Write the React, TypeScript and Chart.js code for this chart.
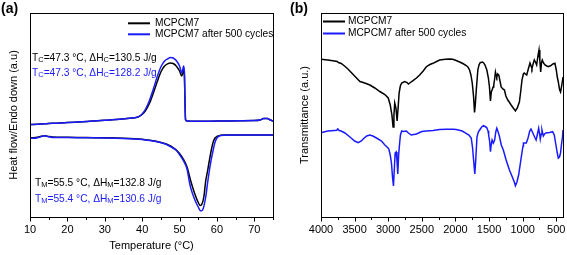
import React, { useEffect, useRef } from 'react';
import { Chart, registerables } from 'chart.js';

Chart.register(...registerables);

const FONT = "'Liberation Sans', Arial, Helvetica, sans-serif";
const BLACK = '#000000';
const BLUE = '#1a1aff';

const SERIES_NAMES = ['MCPCM7', 'MCPCM7 after 500 cycles'];

// ---------- (a) DSC ----------
const COOL_T = [10, 12, 14, 16, 18, 20, 22, 24, 26, 28, 30, 32, 34, 36, 38, 39, 40, 41, 42, 43, 44, 45, 46, 47, 47.5, 48, 48.5, 49, 50, 50.6, 50.9, 51.1, 51.3, 51.45, 51.6, 52, 54, 58, 62, 66, 70, 71.5, 72.5, 73.5, 74.3, 75];
const COOL_MCPCM7 = [92.5, 92.8, 93.2, 93.7, 94, 94.4, 94.8, 95.2, 95.7, 96.2, 96.7, 97.2, 97.8, 98.5, 99.2, 100.2, 102.5, 107, 114, 124, 135, 145, 151, 153.5, 154, 153.8, 153, 151.5, 146, 141, 144, 146.5, 142, 117, 97.5, 96, 95.8, 95.8, 96, 96.2, 96.4, 97, 98.5, 98.5, 97, 96];
const COOL_CYCLED = [92.5, 92.8, 93.2, 93.7, 94, 94.4, 94.8, 95.2, 95.7, 96.2, 96.7, 97.2, 97.8, 98.5, 99.2, 100.2, 103, 108.5, 117, 128, 140, 150, 156, 158.5, 159.5, 159.3, 158.5, 157, 151, 144, 148, 151, 145, 117, 97.5, 96, 95.8, 95.8, 96, 96.2, 96.4, 97, 98.5, 98.5, 97, 96];

const HEAT_T_MCPCM7 = [10, 11, 12, 13, 14, 15, 16, 20, 25, 30, 35, 38, 40, 42, 44, 46, 47, 48, 49, 50, 51, 52, 53, 54, 55, 55.5, 56, 56.5, 57, 57.5, 58, 58.5, 59, 59.5, 60, 61, 62, 65, 70, 75];
const HEAT_MCPCM7 = [79.5, 79.2, 79.7, 80.7, 81.2, 80.5, 80, 79.7, 79.4, 79.2, 78.8, 78.3, 77.7, 76.7, 75.5, 73.5, 72, 70.2, 67.5, 63.5, 58, 50, 36, 24, 14.5, 11.5, 13, 20, 36, 46, 57, 67, 75, 79, 80.7, 81.7, 81.9, 82, 82, 82];
const HEAT_T_CYCLED = [10, 11, 12, 13, 14, 15, 16, 20, 25, 30, 35, 38, 40, 42, 44, 46, 47, 48, 49, 50, 51, 52, 52.7, 53, 54, 55, 55.7, 56.3, 57, 57.5, 58, 58.5, 59, 59.5, 60, 61, 62, 65, 70, 75];
const HEAT_CYCLED = [79, 78.7, 79.2, 80.5, 81.2, 80.2, 79.6, 79.4, 79.2, 79, 78.6, 78.1, 77.5, 76.5, 75.2, 73.2, 71.5, 69.5, 67, 62.5, 56.5, 48, 34, 29, 18, 10, 6, 8, 20, 34, 47, 58, 67, 75, 79, 81.5, 81.8, 82, 82, 82];

const DSC_X_MIN = 10;
const DSC_X_MAX = 75;
const DSC_MAJOR = [10, 20, 30, 40, 50, 60, 70];

// ---------- (b) FTIR ----------
const WN_MCPCM7 = [4000, 3900, 3800, 3760, 3740, 3700, 3650, 3600, 3550, 3500, 3450, 3420, 3350, 3273, 3200, 3125, 3050, 3000, 2970, 2945, 2928, 2915, 2903, 2885, 2868, 2850, 2838, 2820, 2800, 2755, 2720, 2700, 2680, 2631, 2580, 2532, 2480, 2433, 2380, 2334, 2280, 2235, 2150, 2087, 2040, 1990, 1938, 1890, 1840, 1815, 1790, 1770, 1750, 1730, 1716, 1705, 1690, 1667, 1650, 1632, 1600, 1583, 1560, 1533, 1510, 1494, 1479, 1467, 1455, 1440, 1430, 1415, 1405, 1395, 1385, 1370, 1355, 1340, 1320, 1295, 1271, 1250, 1222, 1200, 1172, 1140, 1108, 1080, 1049, 1030, 1010, 990, 975, 960, 940, 920, 891, 875, 862, 845, 827, 810, 792, 775, 757, 745, 732, 720, 708, 690, 668, 640, 618, 580, 550, 520, 500, 485, 470, 450, 436, 420, 400];
const TR_MCPCM7 = [157.7, 157, 156, 155.5, 154.5, 153.5, 151, 148, 144.5, 141, 137.5, 135.5, 134, 132, 129, 125.5, 122.5, 119, 112, 102, 90, 102, 114, 109, 96, 112, 124, 131, 134, 135.5, 134.5, 133, 134, 136.3, 139, 142, 146, 150.3, 152.5, 153.7, 155.5, 157, 157.8, 158, 157.7, 156.5, 155, 153.5, 151.5, 150, 147, 142, 134, 120, 104.5, 112, 127, 147, 152, 154.3, 155, 154.3, 152, 147, 139, 130, 116, 125, 127, 130, 132, 139, 145, 142, 140, 143, 142, 137, 130, 128, 127, 121, 117, 115, 112, 109, 106, 109, 115, 125, 137, 143, 144, 143, 142, 147, 154, 151, 148.5, 153, 157, 155, 152, 160, 167, 157, 145, 154, 157, 154, 152, 151, 150.3, 151.5, 153, 153.7, 147, 140, 135, 127, 125, 131, 140];

const WN_CYCLED = [4000, 3900, 3800, 3767, 3750, 3730, 3700, 3644, 3570, 3500, 3447, 3400, 3373, 3320, 3273, 3230, 3174, 3100, 3050, 3010, 2991, 2970, 2952, 2935, 2922, 2910, 2897, 2882, 2870, 2858, 2845, 2830, 2818, 2800, 2779, 2730, 2700, 2657, 2620, 2581, 2557, 2500, 2433, 2334, 2236, 2136, 2038, 1988, 1900, 1840, 1800, 1765, 1745, 1730, 1712, 1698, 1680, 1660, 1640, 1610, 1583, 1560, 1535, 1515, 1506, 1490, 1479, 1468, 1455, 1436, 1417, 1400, 1385, 1365, 1347, 1318, 1288, 1246, 1197, 1148, 1120, 1108, 1085, 1060, 1040, 1016, 995, 988, 965, 946, 920, 895, 876, 855, 836, 815, 800, 780, 762, 750, 738, 725, 713, 693, 675, 654, 600, 555, 530, 505, 485, 470, 452, 437, 420, 407, 400];
const TR_CYCLED = [84.3, 86, 86.5, 86.7, 88, 86.5, 86, 84, 80, 76, 74.3, 76, 78, 81, 82, 81, 79, 76, 72, 69.5, 68, 62, 54, 39, 31, 47, 64, 65, 57, 43, 62, 74, 82, 86, 85.5, 86, 84, 82, 82.5, 83, 83.7, 85.5, 86, 86.5, 87.5, 87.7, 87.7, 87.5, 86, 83.7, 82, 79, 69, 57, 43, 57, 80, 85, 87, 90, 91.3, 90.5, 89.5, 86, 82, 75, 65.3, 72, 77, 74, 77, 85, 88.7, 85, 81, 72, 67, 57, 47, 39, 34, 31.3, 35, 42, 51, 62, 71, 74, 74, 74, 79, 86, 88, 85, 82, 79, 77, 83, 88.7, 84, 78, 83, 87, 81, 83, 84, 84.5, 85.3, 82, 72, 64, 59, 60, 64, 74, 80, 87];

const FTIR_X_MIN = 400;
const FTIR_X_MAX = 4000;
const FTIR_MAJOR = [500, 1000, 1500, 2000, 2500, 3000, 3500, 4000];

const Y_MIN = 0;
const Y_MAX = 204;

function zip(xs: number[], ys: number[]) {
  return xs.map((x, i) => ({ x, y: ys[i] }));
}

type Seg = { t: string; sub?: boolean };

function drawRich(ctx: CanvasRenderingContext2D, x: number, y: number, segs: Seg[], color: string) {
  ctx.save();
  ctx.fillStyle = color;
  ctx.textBaseline = 'middle';
  ctx.textAlign = 'left';
  let cx = x;
  for (const s of segs) {
    ctx.font = s.sub ? `7.5px ${FONT}` : `10.2px ${FONT}`;
    ctx.fillText(s.t, cx, s.sub ? y + 2.3 : y);
    cx += ctx.measureText(s.t).width;
  }
  ctx.restore();
}

function framePlugin() {
  return {
    id: 'frame',
    afterDraw(chart: any) {
      const { ctx, chartArea } = chart;
      const l = Math.round(chartArea.left) + 0.5;
      const t = Math.round(chartArea.top) + 0.5;
      const r = Math.round(chartArea.right) + 0.5;
      const b = Math.round(chartArea.bottom) + 0.5;
      ctx.save();
      ctx.strokeStyle = BLACK;
      ctx.lineWidth = 1;
      ctx.strokeRect(l, t, r - l, b - t);
      const s = chart.scales.x;
      for (const tk of s.ticks) {
        const px = Math.round(s.getPixelForValue(tk.value)) + 0.5;
        const major = tk.label !== '' && tk.label !== undefined;
        ctx.beginPath();
        ctx.moveTo(px, b);
        ctx.lineTo(px, b + (major ? 4 : 2.5));
        ctx.stroke();
      }
      ctx.restore();
    },
  };
}

function legendPlugin(x1: number, x2: number, tx: number, ys: number[]) {
  return {
    id: 'customLegend',
    afterDraw(chart: any) {
      const ctx = chart.ctx as CanvasRenderingContext2D;
      const colors = [BLACK, BLUE];
      ctx.save();
      SERIES_NAMES.forEach((name, i) => {
        ctx.strokeStyle = colors[i];
        ctx.lineWidth = 2;
        ctx.beginPath();
        ctx.moveTo(x1, ys[i]);
        ctx.lineTo(x2, ys[i]);
        ctx.stroke();
        ctx.fillStyle = BLACK;
        ctx.font = `10.2px ${FONT}`;
        ctx.textBaseline = 'middle';
        ctx.textAlign = 'left';
        ctx.fillText(name, tx, ys[i]);
      });
      ctx.restore();
    },
  };
}

function panelLabel(label: string, x: number) {
  return {
    id: 'panelLabel',
    afterDraw(chart: any) {
      const ctx = chart.ctx as CanvasRenderingContext2D;
      ctx.save();
      ctx.fillStyle = BLACK;
      ctx.font = `bold 14px ${FONT}`;
      ctx.textBaseline = 'middle';
      ctx.textAlign = 'left';
      ctx.fillText(label, x, 9);
      ctx.restore();
    },
  };
}

const dscNotes = {
  id: 'dscNotes',
  afterDraw(chart: any) {
    const ctx = chart.ctx as CanvasRenderingContext2D;
    drawRich(ctx, 32, 58, [{ t: 'T' }, { t: 'C', sub: true }, { t: '=47.3 °C, ΔH' }, { t: 'C', sub: true }, { t: '=130.5 J/g' }], BLACK);
    drawRich(ctx, 32, 73, [{ t: 'T' }, { t: 'C', sub: true }, { t: '=47.3 °C, ΔH' }, { t: 'C', sub: true }, { t: '=128.2 J/g' }], BLUE);
    drawRich(ctx, 35, 183, [{ t: 'T' }, { t: 'M', sub: true }, { t: '=55.5 °C, ΔH' }, { t: 'M', sub: true }, { t: '=132.8 J/g' }], BLACK);
    drawRich(ctx, 35, 199, [{ t: 'T' }, { t: 'M', sub: true }, { t: '=55.4 °C, ΔH' }, { t: 'M', sub: true }, { t: '=130.6 J/g' }], BLUE);
  },
};

function lineDs(label: string, data: any[], color: string, order: number, smooth: boolean) {
  return {
    label,
    data,
    borderColor: color,
    backgroundColor: color,
    borderWidth: 1.5,
    pointRadius: 0,
    fill: false,
    order,
    tension: 0,
    cubicInterpolationMode: smooth ? 'monotone' : 'default',
  };
}

function yScale(title: string, width: number, titlePad: number) {
  return {
    type: 'linear',
    min: Y_MIN,
    max: Y_MAX,
    ticks: { display: false },
    grid: { display: false, drawTicks: false },
    border: { display: false },
    title: {
      display: true,
      text: title,
      color: BLACK,
      font: { size: 11, family: FONT },
      padding: { top: titlePad, bottom: 0 },
    },
    afterFit: (s: any) => {
      s.width = width;
    },
  };
}

function xScaleBase(title: string | null) {
  return {
    type: 'linear',
    grid: { display: false, drawTicks: true, tickLength: 4 },
    border: { display: false },
    ticks: {
      color: BLACK,
      font: { size: 11, family: FONT },
      padding: 2,
      autoSkip: false,
      maxRotation: 0,
      minRotation: 0,
    },
    title: {
      display: !!title,
      text: title || '',
      color: BLACK,
      font: { size: 11, family: FONT },
      padding: { top: 0, bottom: 2.5 },
    },
    afterFit: (s: any) => {
      s.height = 38;
    },
  };
}

function makeDscConfig(): any {
  const xs: any = xScaleBase('Temperature (°C)');
  xs.min = DSC_X_MIN;
  xs.max = DSC_X_MAX;
  xs.ticks.stepSize = 5;
  xs.ticks.callback = (v: number) => (DSC_MAJOR.includes(v) ? String(v) : '');
  return {
    type: 'line',
    data: {
      datasets: [
        lineDs(SERIES_NAMES[0], zip(COOL_T, COOL_MCPCM7), BLACK, 1, true),
        lineDs(SERIES_NAMES[1], zip(COOL_T, COOL_CYCLED), BLUE, 0, true),
        lineDs(SERIES_NAMES[0] + ' heating', zip(HEAT_T_MCPCM7, HEAT_MCPCM7), BLACK, 3, true),
        lineDs(SERIES_NAMES[1] + ' heating', zip(HEAT_T_CYCLED, HEAT_CYCLED), BLUE, 2, true),
      ],
    },
    options: {
      responsive: false,
      animation: false,
      events: [],
      layout: { padding: { top: 13, right: 12, left: 0, bottom: 0 } },
      scales: { x: xs, y: yScale('Heat flow/Endo down (a.u)', 30, 7) },
      plugins: { legend: { display: false }, tooltip: { enabled: false } },
    },
    plugins: [framePlugin(), legendPlugin(128, 150, 155, [23.3, 34.3]), dscNotes, panelLabel('(a)', 1)],
  };
}

function makeFtirConfig(): any {
  const xs: any = xScaleBase(null);
  xs.min = FTIR_X_MIN;
  xs.max = FTIR_X_MAX;
  xs.reverse = true;
  xs.ticks.stepSize = 500;
  xs.ticks.includeBounds = false;
  xs.afterBuildTicks = (s: any) => {
    const t: any[] = [];
    for (let v = FTIR_MAJOR[0]; v <= FTIR_X_MAX; v += 250) t.push({ value: v });
    s.ticks = t;
  };
  xs.ticks.callback = (v: number) => (FTIR_MAJOR.includes(v) ? String(v) : '');
  return {
    type: 'line',
    data: {
      datasets: [
        lineDs(SERIES_NAMES[0], zip(WN_MCPCM7, TR_MCPCM7), BLACK, 1, false),
        lineDs(SERIES_NAMES[1], zip(WN_CYCLED, TR_CYCLED), BLUE, 0, false),
      ],
    },
    options: {
      responsive: false,
      animation: false,
      events: [],
      layout: { padding: { top: 13, right: 4, left: 0, bottom: 0 } },
      scales: { x: xs, y: yScale('Transmittance (a.u.)', 36, 13) },
      plugins: { legend: { display: false }, tooltip: { enabled: false } },
    },
    plugins: [framePlugin(), legendPlugin(38, 60, 63, [21.5, 33.5]), panelLabel('(b)', 5)],
  };
}

export default function App() {
  const refA = useRef<HTMLCanvasElement>(null);
  const refB = useRef<HTMLCanvasElement>(null);
  useEffect(() => {
    Chart.defaults.font.family = FONT;
    const a = new Chart(refA.current as HTMLCanvasElement, makeDscConfig());
    const b = new Chart(refB.current as HTMLCanvasElement, makeFtirConfig());
    return () => {
      a.destroy();
      b.destroy();
    };
  }, []);
  return (
    <div style={{ position: 'absolute', left: 0, top: 0, width: 567, height: 255, background: '#ffffff' }}>
      <canvas ref={refA} width={285} height={255} style={{ position: 'absolute', left: 0, top: 0, width: 285, height: 255 }} />
      <canvas ref={refB} width={282} height={255} style={{ position: 'absolute', left: 285, top: 0, width: 282, height: 255 }} />
    </div>
  );
}
